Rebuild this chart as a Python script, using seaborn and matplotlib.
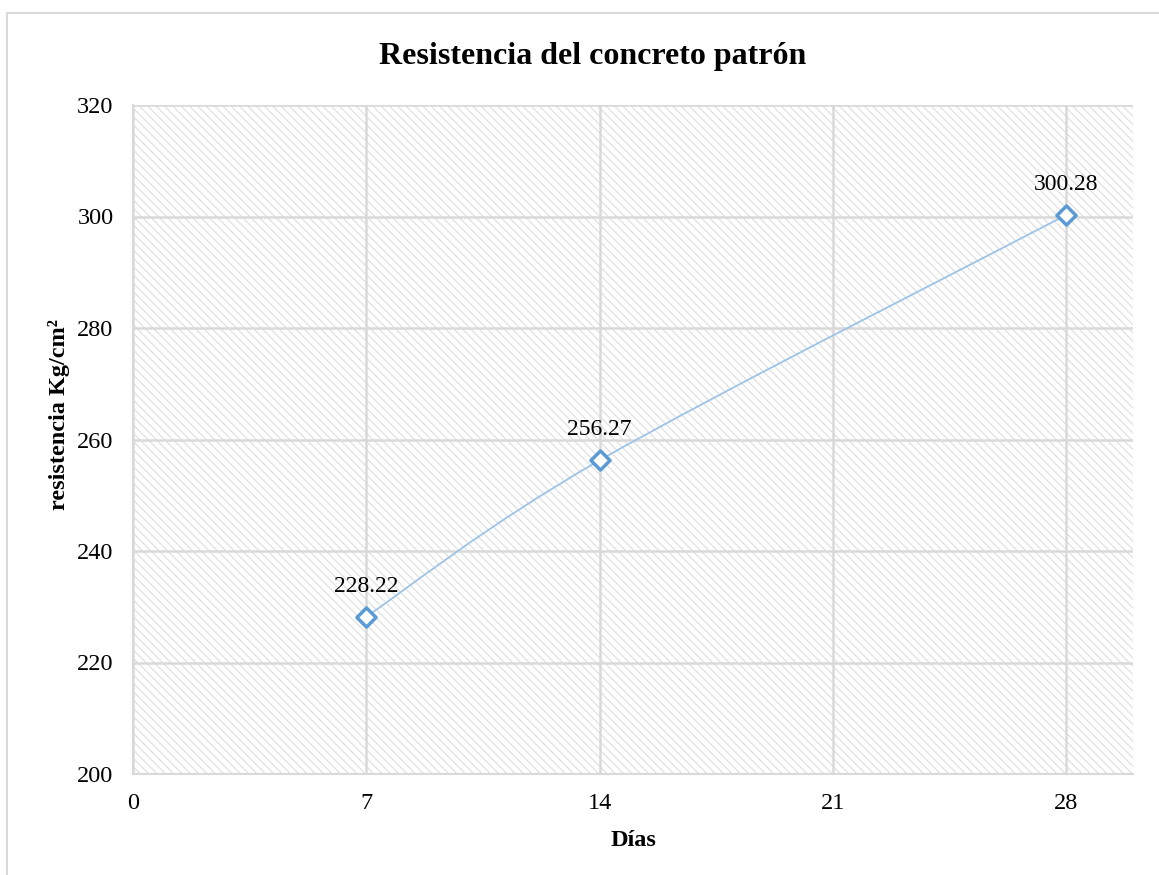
import numpy as np
import pandas as pd
import matplotlib
matplotlib.use("Agg")
import matplotlib.pyplot as plt
import seaborn as sns
from matplotlib.patches import Rectangle, PathPatch
from matplotlib.path import Path

# Data
dias = [7, 14, 28]
resistencia = [228.22, 256.27, 300.28]
etiquetas = ["228.22", "256.27", "300.28"]
x_ticks = [0, 7, 14, 21, 28]
y_ticks = [200, 220, 240, 260, 280, 300, 320]

df = pd.DataFrame({"Días": dias, "resistencia": resistencia})

sns.set_style("white")
plt.rcParams["font.family"] = ["Liberation Serif", "DejaVu Serif"]
plt.rcParams["hatch.linewidth"] = 0.8

GRID = "#d9d9d9"
LINE = "#9dc3e6"
MARK = "#5b9bd5"

fig = plt.figure(figsize=(11.59, 8.75), dpi=100)
ax = fig.add_axes([133 / 1159, 1 - 774 / 875, 1000 / 1159, 669 / 875])

# chart border
fig.patches.append(Rectangle((7 / 1159, -0.05), 1.05, 1 - 13 / 875 + 0.05,
                             transform=fig.transFigure, fill=False,
                             edgecolor=GRID, linewidth=1.5))

# hatched plot area
ax.add_patch(Rectangle((0, 0), 1, 1, transform=ax.transAxes,
                       facecolor="white", edgecolor="#dedede", linewidth=0,
                       hatch="\\\\\\\\", zorder=0.1))

# smoothed line (Excel-style bezier through the points)
pts = np.column_stack([dias, resistencia]).astype(float)
ext = np.vstack([pts[0], pts, pts[-1]])
verts = [tuple(pts[0])]
codes = [Path.MOVETO]
for i in range(1, len(ext) - 2):
    p0, p1, p2, p3 = ext[i - 1], ext[i], ext[i + 1], ext[i + 2]
    c1 = p1 + (p2 - p0) / 6
    c2 = p2 - (p3 - p1) / 6
    verts += [tuple(c1), tuple(c2), tuple(p2)]
    codes += [Path.CURVE4] * 3
ax.add_patch(PathPatch(Path(verts, codes), facecolor="none",
                       edgecolor=LINE, linewidth=1.3, zorder=2))

sns.scatterplot(data=df, x="Días", y="resistencia", marker="D", s=95,
                facecolor="white", edgecolor=MARK, linewidth=2.5,
                zorder=3, ax=ax)

for x, y, t in zip(dias, resistencia, etiquetas):
    ax.annotate(t, (x, y), xytext=(0, 18), textcoords="offset points",
                ha="center", va="baseline", fontsize=17, color="black")

ax.set_xlim(0, 30)
ax.set_ylim(200, 320)
ax.set_xticks(x_ticks)
ax.set_yticks(y_ticks)
ax.grid(True, color=GRID, linewidth=1.8)
ax.set_axisbelow(True)
for s in ax.spines.values():
    s.set_color(GRID)
    s.set_linewidth(1.5)
ax.spines["top"].set_visible(False)
ax.spines["right"].set_visible(False)
ax.tick_params(length=0, labelsize=17.5, pad=14, colors="black")

ax.set_xlabel("Días", fontsize=17.5, fontweight="bold", labelpad=11,
              color="black")
ax.set_ylabel("resistencia Kg/cm²", fontsize=17.5, fontweight="bold",
              color="black")
ax.yaxis.set_label_coords(-0.063, 0.537)

fig.suptitle("Resistencia del concreto patrón", x=0.511, y=0.935,
             va="center", fontsize=23, fontweight="bold", color="black")

plt.savefig("out.png", dpi=100)
